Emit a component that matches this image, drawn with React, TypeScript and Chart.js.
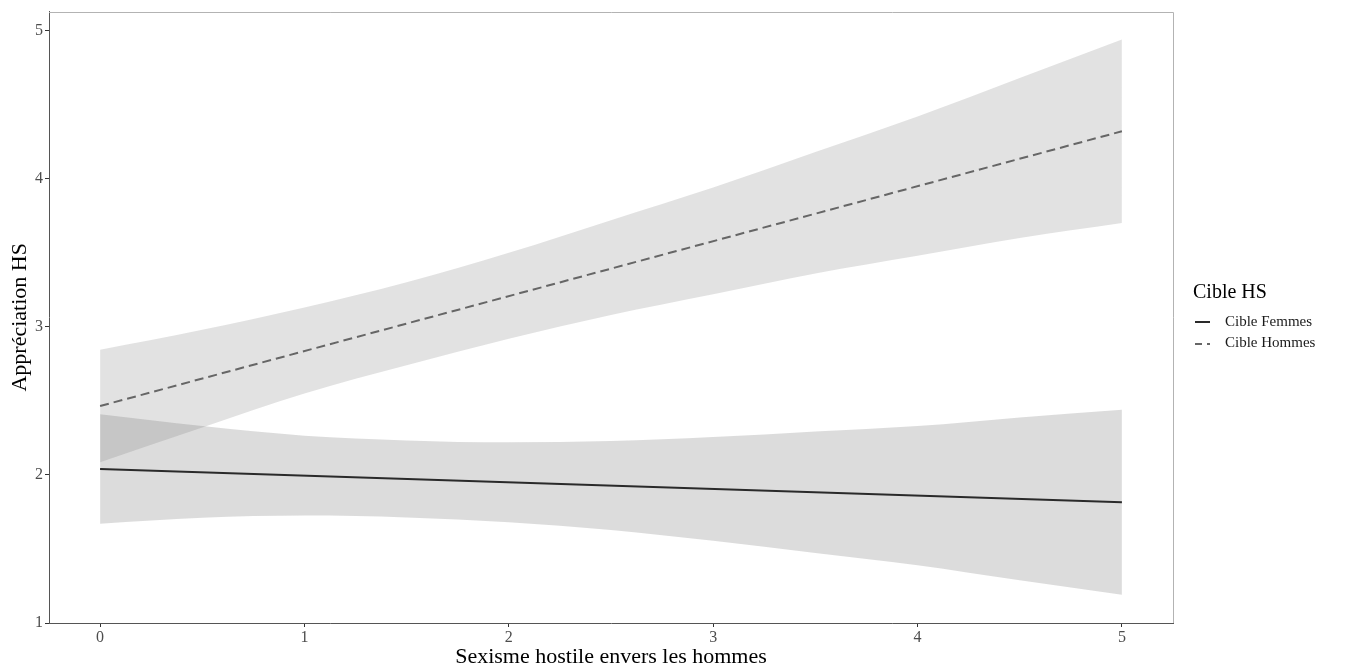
import React, { useEffect, useRef } from "react";
import { Chart, registerables } from "chart.js";

Chart.register(...registerables);

// ---- data ----
const fitX = [0, 5];
const femmesFit = [2.04, 1.815];
const hommesFit = [2.465, 4.32];

const bandX = [0, 0.5, 1, 1.5, 2, 2.5, 3, 3.5, 4, 4.5, 5];
const femmesUpper = [2.41, 2.33, 2.265, 2.233, 2.22, 2.228, 2.255, 2.293, 2.33, 2.388, 2.44];
const femmesLower = [1.67, 1.71, 1.725, 1.713, 1.68, 1.628, 1.555, 1.473, 1.39, 1.288, 1.19];
const hommesUpper = [2.845, 2.98, 3.13, 3.3, 3.5, 3.72, 3.94, 4.18, 4.42, 4.68, 4.94];
const hommesLower = [2.085, 2.32, 2.55, 2.74, 2.92, 3.08, 3.22, 3.36, 3.48, 3.6, 3.7];

const xTicks = [0, 1, 2, 3, 4, 5];
const yTicks = [1, 2, 3, 4, 5];

const seriesNames = ["Cible Femmes", "Cible Hommes"];
const legendTitle = "Cible HS";
const xTitle = "Sexisme hostile envers les hommes";
const yTitle = "Appréciation HS";

const FONT = "'Liberation Serif', 'DejaVu Serif', serif";

const pts = (xs: number[], ys: number[]) => xs.map((x, i) => ({ x, y: ys[i] }));

const framePlugin = {
  id: "frame",
  afterDraw(chart: any) {
    const { ctx, chartArea } = chart;
    const { left, right, top, bottom } = chartArea;
    ctx.save();
    ctx.strokeStyle = "#b3b3b3";
    ctx.lineWidth = 1;
    ctx.beginPath();
    ctx.moveTo(left, Math.round(top) + 0.5);
    ctx.lineTo(Math.round(right) + 0.5, Math.round(top) + 0.5);
    ctx.lineTo(Math.round(right) + 0.5, bottom);
    ctx.stroke();
    ctx.restore();
  },
};

export default function App() {
  const ref = useRef<HTMLCanvasElement | null>(null);

  useEffect(() => {
    if (!ref.current) return;
    const bandCommon = {
      borderWidth: 0,
      pointRadius: 0,
      cubicInterpolationMode: "monotone" as const,
    };
    const chart = new Chart(ref.current, {
      type: "line",
      data: {
        datasets: [
          {
            label: seriesNames[0],
            data: pts(fitX, femmesFit),
            borderColor: "#2a2a2a",
            borderWidth: 2,
            pointRadius: 0,
            fill: false,
          },
          {
            label: seriesNames[1],
            data: pts(fitX, hommesFit),
            borderColor: "#666666",
            borderWidth: 2,
            borderDash: [9, 5],
            pointRadius: 0,
            fill: false,
          },
          {
            label: "hommes-upper",
            data: pts(bandX, hommesUpper),
            backgroundColor: "rgba(110,110,110,0.2)",
            fill: "+1",
            ...bandCommon,
          },
          {
            label: "hommes-lower",
            data: pts(bandX, hommesLower),
            fill: false,
            ...bandCommon,
          },
          {
            label: "femmes-upper",
            data: pts(bandX, femmesUpper),
            backgroundColor: "rgba(110,110,110,0.24)",
            fill: "+1",
            ...bandCommon,
          },
          {
            label: "femmes-lower",
            data: pts(bandX, femmesLower),
            fill: false,
            ...bandCommon,
          },
        ],
      },
      options: {
        responsive: false,
        animation: false,
        layout: { padding: { top: 11, right: 176, left: 0, bottom: 0 } },
        plugins: {
          legend: { display: false },
          tooltip: { enabled: false },
          filler: { propagate: false },
        },
        scales: {
          x: {
            type: "linear",
            min: -0.25,
            max: 5.25,
            afterBuildTicks: (s: any) => {
              s.ticks = xTicks.map((v) => ({ value: v }));
            },
            afterFit: (s: any) => {
              s.height = 47;
            },
            grid: {
              display: true,
              drawOnChartArea: false,
              drawTicks: true,
              tickLength: 4,
              color: "#333333",
            },
            border: { display: true, color: "#555555", width: 1 },
            ticks: {
              font: { family: FONT, size: 16 },
              color: "#4d4d4d",
              padding: 1,
              maxRotation: 0,
              autoSkip: false,
            },
            title: {
              display: true,
              text: xTitle,
              font: { family: FONT, size: 22 },
              color: "#000000",
              padding: { top: 0, bottom: 0 },
            },
          },
          y: {
            type: "linear",
            min: 1,
            max: 5.128,
            afterBuildTicks: (s: any) => {
              s.ticks = yTicks.map((v) => ({ value: v }));
            },
            afterFit: (s: any) => {
              s.width = 49;
            },
            grid: {
              display: true,
              drawOnChartArea: false,
              drawTicks: true,
              tickLength: 4,
              color: "#333333",
            },
            border: { display: true, color: "#555555", width: 1 },
            ticks: {
              font: { family: FONT, size: 16 },
              color: "#4d4d4d",
              padding: 2,
              autoSkip: false,
            },
            title: {
              display: true,
              text: yTitle,
              font: { family: FONT, size: 22 },
              color: "#000000",
              padding: { top: 7, bottom: 0 },
            },
          },
        },
      },
      plugins: [framePlugin],
    } as any);
    return () => chart.destroy();
  }, []);

  return (
    <div
      style={{
        position: "fixed",
        left: 0,
        top: 0,
        width: 1349,
        height: 670,
        background: "#ffffff",
        fontFamily: FONT,
      }}
    >
      <canvas ref={ref} width={1349} height={670} style={{ display: "block", width: 1349, height: 670 }} />
      <div
        style={{
          position: "absolute",
          left: 1193,
          top: 281,
          fontSize: 20,
          lineHeight: "20px",
          color: "#000",
          whiteSpace: "nowrap",
        }}
      >
        {legendTitle}
      </div>
      <svg
        style={{ position: "absolute", left: 1194, top: 314, overflow: "visible" }}
        width={18}
        height={36}
      >
        <line x1={1} y1={8} x2={16} y2={8} stroke="#2a2a2a" strokeWidth={2} />
        <line x1={1} y1={30} x2={16} y2={30} stroke="#666666" strokeWidth={2} strokeDasharray="7 5" />
      </svg>
      <div
        style={{
          position: "absolute",
          left: 1225,
          top: 314,
          fontSize: 15,
          lineHeight: "15px",
          color: "#1a1a1a",
          whiteSpace: "nowrap",
        }}
      >
        {seriesNames[0]}
      </div>
      <div
        style={{
          position: "absolute",
          left: 1225,
          top: 335,
          fontSize: 15,
          lineHeight: "15px",
          color: "#1a1a1a",
          whiteSpace: "nowrap",
        }}
      >
        {seriesNames[1]}
      </div>
    </div>
  );
}
